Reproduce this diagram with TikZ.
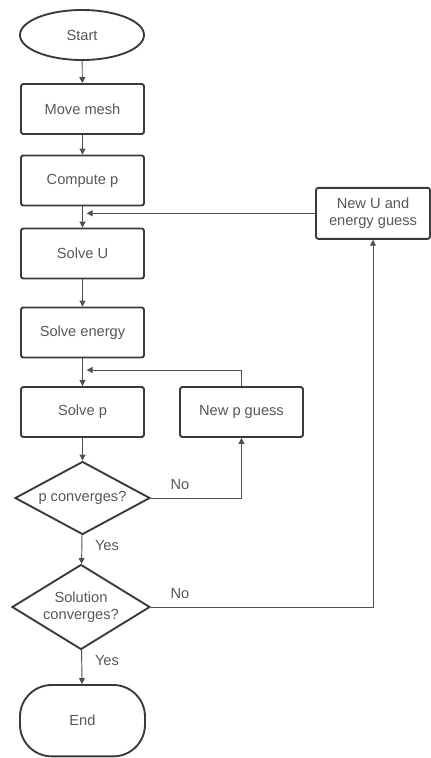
\documentclass[tikz,border=0pt]{standalone}
\usepackage{fontspec}
\setmainfont{Liberation Sans}
\usepackage{xcolor}
\definecolor{ink}{RGB}{58,58,58}
\definecolor{wire}{RGB}{80,80,80}
\definecolor{label}{RGB}{88,88,88}
\usetikzlibrary{arrows.meta,shapes.geometric}

\begin{document}
\begin{tikzpicture}[
  font=\fontsize{12.5}{14.5}\selectfont,
  pbox/.style={rectangle,rounded corners=2pt,draw=ink,line width=1.6pt,
               minimum width=3.69cm,minimum height=1.5cm,text=label,align=center},
  term/.style={draw=ink,line width=1.6pt,text=label,align=center},
  dia/.style={diamond,draw=ink,line width=1.6pt,inner sep=0pt,
              text=label,align=center},
  arr/.style={draw=wire,line width=0.8pt,-{Triangle[length=5pt,width=5pt]}},
  lbl/.style={text=label},
]
  \useasboundingbox[fill=white] (0,0) rectangle (12.93,-22.74);
  \node[term,ellipse,minimum width=3.72cm,minimum height=1.5cm] (start) at (2.46,-1.05) {Start};
  \node[pbox] (move)    at (2.475,-3.27)  {Move mesh};
  \node[pbox] (comp)    at (2.475,-5.415) {Compute p};
  \node[pbox] (solveU)  at (2.475,-7.605) {Solve U};
  \node[pbox] (solveE)  at (2.475,-9.975) {Solve energy};
  \node[pbox] (solveP)  at (2.475,-12.36) {Solve p};
  \node[pbox] (newP)    at (7.245,-12.36) {New p guess};
  \node[pbox,minimum width=3.42cm,minimum height=1.53cm] (newU) at (11.19,-6.40) {New U and\\energy guess};
  \node[dia,aspect=1.85,minimum width=4.05cm,minimum height=2.19cm] (pconv) at (2.475,-14.94) {p converges?};
  \node[dia,aspect=1.62,minimum width=4.14cm,minimum height=2.55cm] (sconv) at (2.43,-18.21) {Solution\\converges?};
  \node[term,rectangle,rounded corners=0.95cm,minimum width=3.75cm,minimum height=2.14cm] (stop) at (2.475,-21.62) {End};
  \coordinate (joinU) at (2.60,-6.40);
  \coordinate (joinP) at (2.60,-11.10);

  \draw[arr] (start) -- (move);
  \draw[arr] (move) -- (comp);
  \draw[arr] (comp) -- (solveU);
  \draw[arr] (solveU) -- (solveE);
  \draw[arr] (solveE) -- (solveP);
  \draw[arr] (solveP) -- (pconv);
  \draw[arr] (pconv) -- (sconv);
  \draw[arr] (sconv) -- (stop);
  \draw[arr] (pconv.east) -| (newP.south);
  \draw[arr] (newP.north) |- (joinP);
  \draw[arr] (sconv.east) -| (newU.south);
  \draw[arr] (newU.west) -- (joinU);

  \node[lbl] (noP)  at (5.40,-14.55) {No};
  \node[lbl] (yesP) at (3.21,-16.38) {Yes};
  \node[lbl] (noS)  at (5.40,-17.82) {No};
  \node[lbl] (yesS) at (3.21,-19.83) {Yes};
\end{tikzpicture}
\end{document}
